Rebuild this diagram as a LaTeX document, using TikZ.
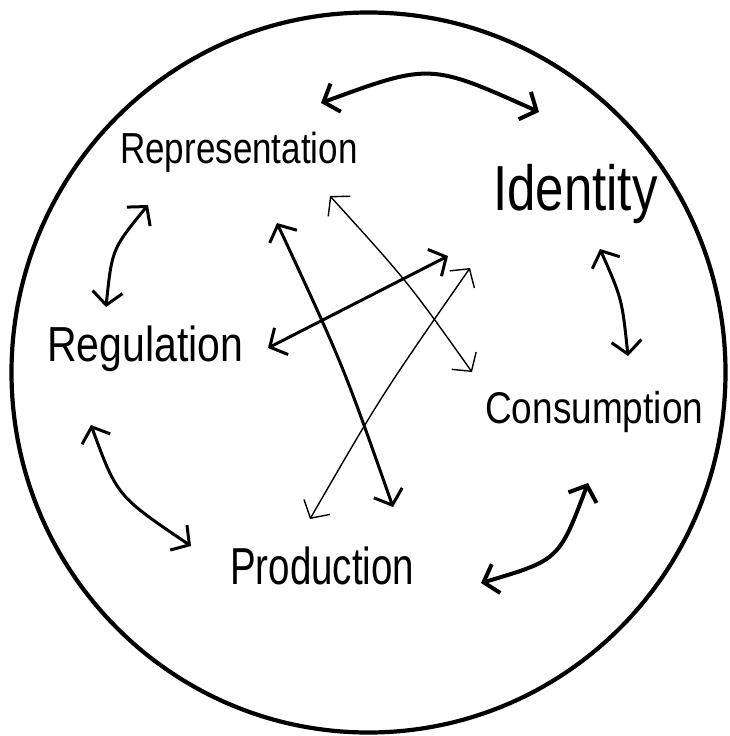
\documentclass[tikz,border=0pt]{standalone}
\usepackage{fontspec}
\setmainfont{Liberation Sans}
\usetikzlibrary{arrows.meta}
\begin{document}
\begin{tikzpicture}[x=1pt,y=-1pt,
  lbl/.style={inner sep=0pt,anchor=base west},
  dbl/.style={{Straight Barb[length=13pt,width=30pt]}-{Straight Barb[length=13pt,width=30pt]},line cap=round,line join=round},
  thick3/.style={dbl,line width=4pt},
  med/.style={dbl,line width=3pt},
  thin1/.style={dbl,line width=1.4pt}]
\useasboundingbox (0,0) rectangle (729,736);
\draw[line width=4.2pt] (368.5,372.5) ellipse [x radius=357, y radius=360];
% labels
\node[lbl] (rep) at (120,163) {\fontsize{35}{40}\selectfont\scalebox{1}[1.24]{Representation}};
\node[lbl] (idn) at (493,210) {\fontsize{51}{56}\selectfont\scalebox{1}[1.25]{Identity}};
\node[lbl] (reg) at (47,361) {\fontsize{41}{46}\selectfont\scalebox{1}[1.2]{Regulation}};
\node[lbl] (con) at (485,423) {\fontsize{37}{42}\selectfont\scalebox{1}[1.2]{Consumption}};
\node[lbl] (pro) at (230,584) {\fontsize{38.5}{44}\selectfont\scalebox{1}[1.35]{Production}};
% arrow end points
\coordinate (a1) at (321,103); \coordinate (b1) at (539,112);
\coordinate (a2) at (148,205); \coordinate (b2) at (106,307);
\coordinate (a3) at (600,249); \coordinate (b3) at (628,356);
\coordinate (a4) at (91,425);  \coordinate (b4) at (191,546);
\coordinate (a5) at (588,483); \coordinate (b5) at (481,583);
\coordinate (a6) at (277,223); \coordinate (b6) at (393,507);
\coordinate (a7) at (330,196); \coordinate (b7) at (472,372);
\coordinate (a8) at (268,348); \coordinate (b8) at (448,256);
\coordinate (a9) at (310,519); \coordinate (b9) at (470,268);
% connectors
\draw[thick3] (a1) .. controls (430,63) .. (b1);
\draw[med]    (a2) .. controls (112,249) .. (b2);
\draw[med]    (a3) .. controls (622,299) .. (b3);
\draw[med]    (a4) .. controls (117,496) .. (b4);
\draw[thick3] (a5) .. controls (559,560) .. (b5);
\draw[med]    (a6) .. controls (343,365) .. (b6);
\draw[thin1]  (a7) .. controls (408,282) .. (b7);
\draw[med]    (a8) -- (b8);
\draw[thin1]  (a9) .. controls (381,396) .. (b9);
\end{tikzpicture}
\end{document}
